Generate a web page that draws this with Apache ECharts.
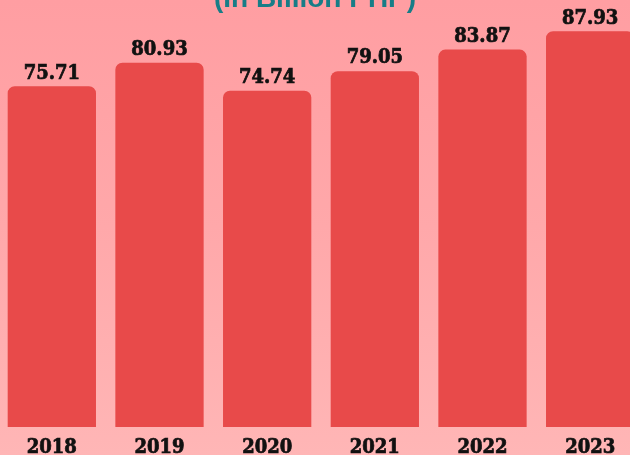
<!DOCTYPE html>
<html><head><meta charset="utf-8">
<script src="https://cdn.jsdelivr.net/npm/echarts@6/dist/echarts.min.js"></script>
<style>html,body{margin:0;padding:0;}#c{width:630px;height:455px;background:linear-gradient(180deg,#ff9ea2 0%,#ffa8aa 50%,#ffb6b6 100%);}</style>
</head><body><div id="c"></div>
<script>
const years = ['2018','2019','2020','2021','2022','2023'];
const values = [75.71, 80.93, 74.74, 79.05, 83.87, 87.93];
const titleText = '(In Billion PHP)';
const serif = '"DejaVu Serif Condensed", "DejaVu Serif", serif';
const chart = echarts.init(document.getElementById('c'));
chart.setOption({
  backgroundColor: 'transparent',
  title: {text: titleText, left: 'center', top: -20,
    textStyle: {color: '#177d87', fontFamily: 'Liberation Sans', fontWeight: 'bold', fontSize: 28}},
  grid: {left: -2, width: 646, top: 22, bottom: 28, outerBoundsMode: 'none', containLabel: false},
  xAxis: {type: 'category', data: years,
    axisLine: {show: false}, axisTick: {show: false},
    axisLabel: {color: '#111', fontFamily: serif, fontWeight: 'bold', fontSize: 20, margin: 11,
      textBorderColor: '#111', textBorderWidth: 0.7}},
  yAxis: {type: 'value', min: 0, max: 90, show: false, splitLine: {show: false}},
  series: [{type: 'bar', data: values, barWidth: '82%',
    itemStyle: {color: '#e84a4a', borderRadius: [7, 7, 0, 0]},
    label: {show: true, position: 'top', distance: 3, color: '#111',
      fontFamily: serif, fontWeight: 'bold', fontSize: 20,
      textBorderColor: '#111', textBorderWidth: 0.7,
      formatter: p => p.value.toFixed(2)}}]
});
</script></body></html>
